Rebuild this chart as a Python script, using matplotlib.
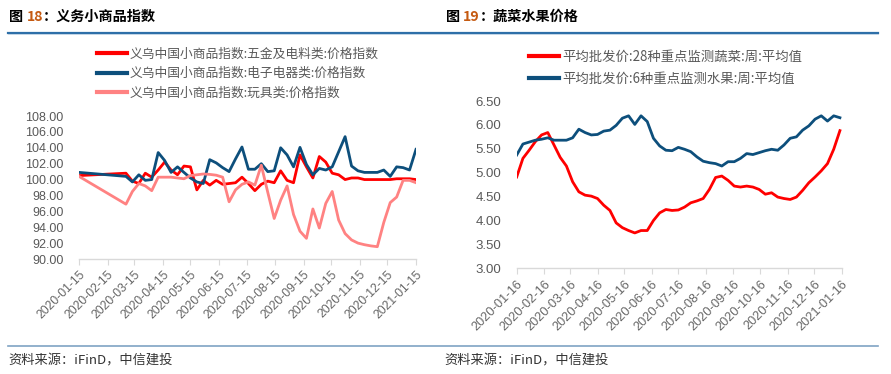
import matplotlib
matplotlib.use("Agg")
import matplotlib.pyplot as plt
import matplotlib.dates as mdates
import pandas as pd
import numpy as np

plt.rcParams['font.family'] = ['Noto Sans CJK SC', 'DejaVu Sans']

# ---------------- data: left chart (义乌中国小商品指数) ----------------
left_dates = ['2020-01-15'] + [d.strftime('%Y-%m-%d') for d in
                               pd.date_range('2020-03-06', '2021-01-15', freq='7D')]
hardware = [100.5,
            100.8, 99.8, 99.5, 100.8, 100.3, 101.2, 102.2, 101.2, 100.6, 101.7,
            101.6, 98.7, 99.9, 99.3, 99.9, 99.4, 99.5, 99.6, 100.3, 99.5,
            98.6, 99.4, 99.8, 99.6, 101.1, 99.9, 99.6, 103.1, 101.6, 100.2,
            102.9, 102.2, 100.8, 100.6, 100.0, 100.2, 100.2, 100.0, 100.0, 100.0,
            100.0, 100.0, 100.1, 100.1, 100.1, 100.0]
electronics = [100.9,
               100.4, 99.7, 100.6, 99.9, 100.0, 103.4, 102.4, 100.9, 101.6, 100.9,
               100.2, 99.7, 99.5, 102.5, 102.1, 101.5, 101.0, 102.6, 104.1, 101.3,
               101.3, 102.0, 101.0, 101.1, 104.0, 103.1, 101.6, 104.05, 101.9, 100.6,
               101.4, 101.2, 101.6, 103.5, 105.4, 101.7, 101.1, 100.9, 100.9, 100.9,
               101.2, 100.4, 101.6, 101.5, 101.2, 103.8]
toys = [100.4,
        96.9, 98.5, 99.5, 99.2, 98.6, 100.3, 100.3, 100.3, 100.2, 100.1,
        100.5, 100.6, 100.7, 100.65, 100.55, 100.3, 97.2, 98.7, 99.4, 99.7,
        99.3, 101.8, 98.4, 95.1, 97.4, 99.2, 95.6, 93.5, 92.6, 96.3,
        93.9, 97.0, 98.5, 94.9, 93.2, 92.4, 92.0, 91.8, 91.65, 91.55,
        94.6, 97.1, 97.8, 99.9, 99.9, 99.6]
left_labels = ['义乌中国小商品指数:五金及电料类:价格指数',
               '义乌中国小商品指数:电子电器类:价格指数',
               '义乌中国小商品指数:玩具类:价格指数']
left_ticks = ['2020-01-15', '2020-02-15', '2020-03-15', '2020-04-15', '2020-05-15',
              '2020-06-15', '2020-07-15', '2020-08-15', '2020-09-15', '2020-10-15',
              '2020-11-15', '2020-12-15', '2021-01-15']

# ---------------- data: right chart (蔬菜水果价格) ----------------
right_dates = [d.strftime('%Y-%m-%d') for d in
               pd.date_range('2020-01-16', '2021-01-14', freq='7D')]
vegetables = [4.91, 5.30, 5.47, 5.65, 5.79, 5.84, 5.58, 5.32, 5.14, 4.81,
              4.60, 4.53, 4.51, 4.46, 4.32, 4.21, 3.95, 3.85, 3.79, 3.74,
              3.79, 3.79, 4.00, 4.16, 4.23, 4.21, 4.22, 4.28, 4.37, 4.41,
              4.46, 4.65, 4.90, 4.93, 4.84, 4.72, 4.70, 4.72, 4.70, 4.65,
              4.55, 4.58, 4.49, 4.46, 4.44, 4.49, 4.63, 4.79, 4.91, 5.04,
              5.19, 5.49, 5.88]
fruits = [5.37, 5.60, 5.64, 5.68, 5.70, 5.73, 5.68, 5.68, 5.68, 5.73,
          5.91, 5.84, 5.79, 5.80, 5.87, 5.89, 5.99, 6.14, 6.19, 6.01,
          6.19, 6.07, 5.72, 5.56, 5.47, 5.46, 5.53, 5.49, 5.44, 5.33,
          5.24, 5.21, 5.19, 5.14, 5.23, 5.23, 5.30, 5.40, 5.38, 5.42,
          5.46, 5.49, 5.47, 5.58, 5.72, 5.75, 5.89, 5.98, 6.12, 6.19,
          6.08, 6.19, 6.15]
right_labels = ['平均批发价:28种重点监测蔬菜:周:平均值',
                '平均批发价:6种重点监测水果:周:平均值']
right_ticks = ['2020-01-16', '2020-02-16', '2020-03-16', '2020-04-16', '2020-05-16',
               '2020-06-16', '2020-07-16', '2020-08-16', '2020-09-16', '2020-10-16',
               '2020-11-16', '2020-12-16', '2021-01-16']

RED = '#FF0000'
BLUE = '#0D4F7C'
PINK = '#FF8282'
GRAY = '#595959'
W, H = 891, 374

fig = plt.figure(figsize=(W / 100, H / 100), dpi=100)


def fx(px):
    return px / W


def fy(py):
    return 1 - py / H


def style_axis(ax, dates_ticks, ylim, yticks, fmt, fs):
    ax.set_ylim(*ylim)
    ax.set_yticks(yticks)
    ax.set_yticklabels([fmt % v for v in yticks])
    tick_dates = pd.to_datetime(dates_ticks)
    ax.set_xticks(tick_dates)
    ax.set_xticklabels(dates_ticks, rotation=45, ha='right', va='top',
                       rotation_mode='anchor')
    for s in ['top', 'right', 'left']:
        ax.spines[s].set_visible(False)
    ax.spines['bottom'].set_color('#D9D9D9')
    ax.spines['bottom'].set_linewidth(1.0)
    ax.tick_params(axis='y', length=0, pad=11, labelsize=fs, labelcolor=GRAY)
    ax.tick_params(axis='x', length=4, width=0.8, color='#D9D9D9', pad=3,
                   labelsize=fs - 0.3, labelcolor='#666666')
    for lab in ax.get_yticklabels() + ax.get_xticklabels():
        lab.set_family(['Liberation Sans', 'DejaVu Sans'])


# ---- left chart
axL = fig.add_axes([fx(79), fy(259), fx(416) - fx(79), fy(116) - fy(259)])
ld = pd.to_datetime(left_dates)
l1, = axL.plot(ld, hardware, color=RED, lw=2.0)
l2, = axL.plot(ld, electronics, color=BLUE, lw=2.0)
l3, = axL.plot(ld, toys, color=PINK, lw=2.0)
axL.set_xlim(pd.Timestamp('2020-01-15'), pd.Timestamp('2021-01-15'))
style_axis(axL, left_ticks, (90, 108), np.arange(90, 108.1, 2), '%.2f', 9)
legL = fig.legend([l1, l2, l3], left_labels, loc='upper left',
                  bbox_to_anchor=(fx(91), fy(41)), frameon=False,
                  fontsize=9.2, labelcolor=GRAY, handlelength=2.3,
                  handletextpad=0.25, labelspacing=0.52, borderpad=0)
for line in legL.get_lines():
    line.set_linewidth(3)

# ---- right chart
axR = fig.add_axes([fx(516.7), fy(268.3), fx(841.7) - fx(516.7), fy(101) - fy(268.3)])
rd = pd.to_datetime(right_dates)
r1, = axR.plot(rd, vegetables, color=RED, lw=2.0)
r2, = axR.plot(rd, fruits, color=BLUE, lw=2.0)
axR.set_xlim(pd.Timestamp('2020-01-16'), pd.Timestamp('2021-01-16'))
style_axis(axR, right_ticks, (3.0, 6.5), np.arange(3.0, 6.51, 0.5), '%.2f', 9.5)
legR = fig.legend([r1, r2], right_labels, loc='upper left',
                  bbox_to_anchor=(fx(522), fy(43)), frameon=False,
                  fontsize=9.6, labelcolor=GRAY, handlelength=2.3,
                  handletextpad=0.25, labelspacing=0.62, borderpad=0)
for line in legR.get_lines():
    line.set_linewidth(3)

# ---- titles with coloured figure numbers
fig.canvas.draw()
renderer = fig.canvas.get_renderer()


def title(x, parts):
    cx = x
    for txt, col in parts:
        t = fig.text(fx(cx), fy(17), txt, color=col, fontsize=10.2, fontweight='bold',
                     ha='left', va='center',
                     family=['Noto Sans CJK SC', 'DejaVu Sans'])
        bb = t.get_window_extent(renderer)
        cx += bb.width


title(9, [('图 ', '#000000'), ('18', '#C55A11'), ('：义务小商品指数', '#000000')])
title(446, [('图 ', '#000000'), ('19', '#C55A11'), ('：蔬菜水果价格', '#000000')])

# header / footer rules
fig.add_artist(plt.Line2D([fx(8), fx(878)], [fy(32.5), fy(32.5)], color='#2E6FA8', lw=1.6))
fig.add_artist(plt.Line2D([fx(8), fx(878)], [fy(34), fy(34)], color='#BBD0E4', lw=0.6))
fig.add_artist(plt.Line2D([fx(8), fx(878)], [fy(346), fy(346)], color='#7FA3C4', lw=1.2))

# sources
for x in (8, 444):
    fig.text(fx(x), fy(361), '资料来源：iFinD，中信建投', fontsize=9.5, color='#333333',
             ha='left', va='center', style='italic',
             family=['Noto Sans CJK SC', 'DejaVu Sans'])

fig.savefig('out.png', dpi=100)
